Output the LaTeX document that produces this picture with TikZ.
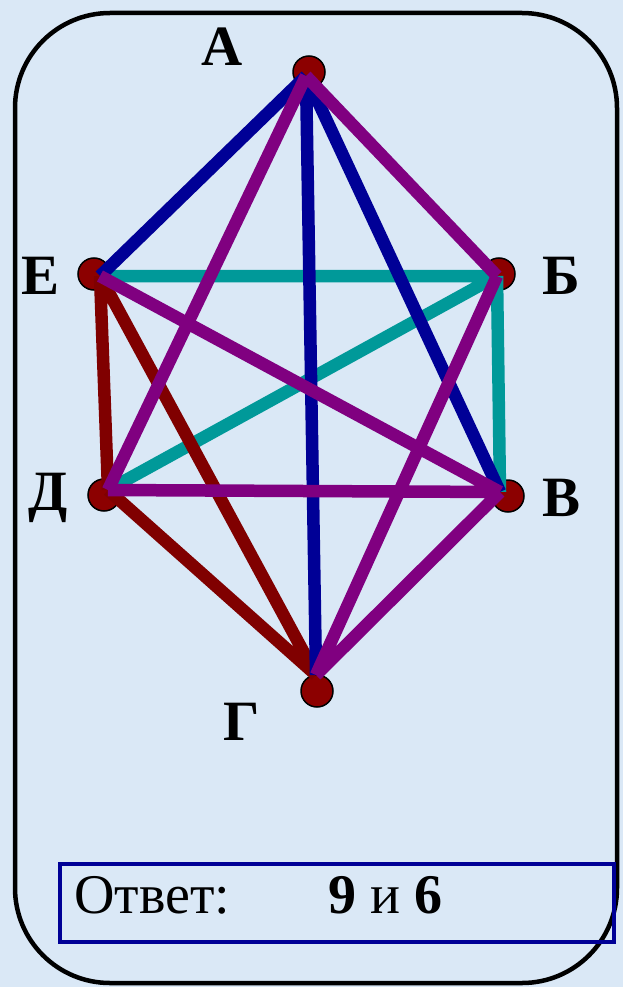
\documentclass[tikz,border=0pt]{standalone}
\usepackage{fontspec}
\setmainfont{Liberation Serif}
\definecolor{bgblue}{RGB}{218,232,246}
\definecolor{eblue}{RGB}{0,0,150}
\definecolor{epurple}{RGB}{128,0,128}
\definecolor{eteal}{RGB}{0,153,153}
\definecolor{ered}{RGB}{128,0,0}
\definecolor{dotred}{RGB}{140,0,0}
\begin{document}
\begin{tikzpicture}[x=1pt,y=-1pt,
  edge/.style={line width=12.5pt},
  vdot/.style={circle,draw=black,line width=1.5pt,fill=dotred,minimum size=32pt,inner sep=0pt},
  lbl/.style={font=\fontsize{57}{57}\selectfont\bfseries},
  ans/.style={font=\fontsize{56}{56}\selectfont,anchor=base west,inner sep=0pt}]
% ---------------- фон и рамка ----------------
\fill[bgblue] (0,0) rectangle (623,987);
\useasboundingbox (0,0) rectangle (623,987);
\draw[line width=4.5pt,rounded corners=95pt] (15,13) rectangle (617,983);
% ---------------- вершины ----------------
\node[vdot] (dA) at (309,72) {};
\node[vdot] (dB) at (499,274) {};
\node[vdot] (dV) at (508,496) {};
\node[vdot] (dG) at (317,691) {};
\node[vdot] (dD) at (104,495) {};
\node[vdot] (dE) at (94,274) {};
% концы рёбер
\coordinate (A) at (306,76);
\coordinate (B) at (497,276);
\coordinate (V) at (500,492);
\coordinate (G) at (316,675);
\coordinate (D) at (108,490);
\coordinate (E) at (100,276);
% ---------------- рёбра ----------------
% бирюзовые
\draw[edge,eteal] (E) -- (B) (B) -- (D) (B) -- (V);
% тёмно-красные
\draw[edge,ered] (E) -- (D) (E) -- (G) (D) -- (G);
% синие
\draw[edge,eblue] (A) -- (E) (A) -- (V) (A) -- (G);
% фиолетовые
\draw[edge,epurple] (A) -- (B) (A) -- (D) (E) -- (V) (D) -- (V) (B) -- (G) (V) -- (G);
% ---------------- подписи ----------------
\node[lbl] (lA) at (222,47) {А};
\node[lbl] (lB) at (561,276) {Б};
\node[lbl] (lV) at (562,498) {В};
\node[lbl] (lG) at (242,722) {Г};
\node[lbl] (lD) at (48,498) {Д};
\node[lbl] (lE) at (41,276) {Е};
% ---------------- ответ ----------------
\node[draw=eblue,line width=4pt,minimum width=554pt,minimum height=78pt,anchor=north west] (box) at (58,862) {};
\node[ans] (txt) at (74,913) {Ответ:};
\node[ans] (num) at (328,913) {\textbf{9} и \textbf{6}};
\end{tikzpicture}
\end{document}
